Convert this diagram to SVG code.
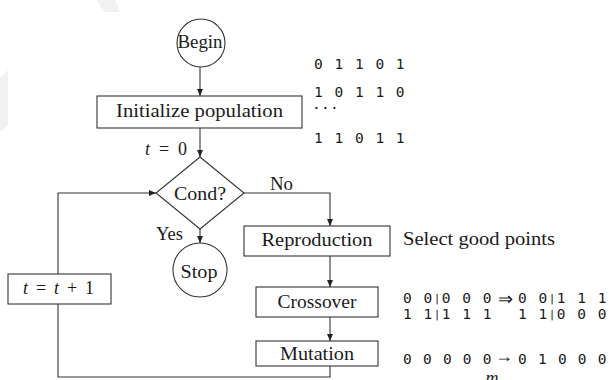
<svg xmlns="http://www.w3.org/2000/svg" width="615" height="380" viewBox="0 0 615 380">
  <style>
    .shape { fill: #ffffff; stroke: #333333; stroke-width: 1.1; }
    .wire { fill: none; stroke: #333333; stroke-width: 1.1; }
    .rm { font-family: "Liberation Serif", "Times New Roman", serif; font-size: 18px; fill: #1a1a1a; }
    .tt { font-family: "DejaVu Sans Mono", "Liberation Mono", monospace; font-size: 14.5px; fill: #1a1a1a; letter-spacing: 1.5px; }
    .bar { font-size: 11px; }
    .it { font-style: italic; }
    .mark { fill: #f1f1f1; stroke: none; }
  </style>
  <defs>
    <marker id="head" viewBox="0 0 7 6" markerWidth="7" markerHeight="6" refX="7" refY="3" orient="auto" markerUnits="userSpaceOnUse">
      <path d="M0,0 L7,3 L0,6 z" fill="#222222"/>
    </marker>
  </defs>

  <rect width="615" height="380" fill="#ffffff"/>

  <!-- faint background marks -->
  <polygon class="mark" points="97,0 115,0 120,12 104,12"/>
  <polygon class="mark" points="0,78 8,70 8,125 0,132"/>

  <!-- connectors -->
  <g id="connectors">
    <line class="wire" x1="200" y1="67" x2="200" y2="96" marker-end="url(#head)"/>
    <line class="wire" x1="200" y1="128" x2="200" y2="157" marker-end="url(#head)"/>
    <line class="wire" x1="200" y1="229" x2="200" y2="243" marker-end="url(#head)"/>
    <polyline class="wire" points="244,193 330,193 330,226" marker-end="url(#head)"/>
    <line class="wire" x1="330" y1="256" x2="330" y2="287" marker-end="url(#head)"/>
    <line class="wire" x1="330" y1="317" x2="330" y2="341" marker-end="url(#head)"/>
    <polyline class="wire" points="330,366 330,377 58,377 58,193 156,193" marker-end="url(#head)"/>
  </g>

  <!-- start node -->
  <g id="begin">
    <circle class="shape" cx="201" cy="43" r="24"/>
    <text class="rm" x="200" y="48" text-anchor="middle" textLength="45" lengthAdjust="spacingAndGlyphs">Begin</text>
  </g>

  <!-- initial population -->
  <g id="init">
    <rect class="shape" x="97" y="96" width="205" height="32"/>
    <text class="rm" x="199.5" y="117" text-anchor="middle" textLength="167" lengthAdjust="spacingAndGlyphs">Initialize population</text>
  </g>
  <g id="init-label">
    <text class="rm" x="145" y="155" textLength="42" lengthAdjust="spacing"><tspan class="it">t</tspan> = 0</text>
  </g>
  <g id="population">
    <text class="tt" x="314" y="69" xml:space="preserve">0 1 1 0 1</text>
    <text class="tt" x="314" y="97" xml:space="preserve">1 0 1 1 0</text>
    <text class="tt" x="312 321 330" y="113" letter-spacing="0">···</text>
    <text class="tt" x="314" y="143" xml:space="preserve">1 1 0 1 1</text>
  </g>

  <!-- decision -->
  <g id="cond">
    <polygon class="shape" points="200,157 244,193 200,229 156,193"/>
    <text class="rm" x="200" y="200" text-anchor="middle" textLength="52" lengthAdjust="spacingAndGlyphs">Cond?</text>
  </g>
  <g id="branch-labels">
    <text class="rm" x="270" y="190" textLength="23" lengthAdjust="spacingAndGlyphs">No</text>
    <text class="rm" x="156" y="240" textLength="27" lengthAdjust="spacingAndGlyphs">Yes</text>
  </g>

  <!-- end node -->
  <g id="stop">
    <circle class="shape" cx="200" cy="270" r="27"/>
    <text class="rm" x="199" y="278" text-anchor="middle" textLength="37" lengthAdjust="spacingAndGlyphs">Stop</text>
  </g>

  <!-- counter update -->
  <g id="increment">
    <rect class="shape" x="8" y="274" width="103" height="30"/>
    <text class="rm" x="23" y="294" textLength="71" lengthAdjust="spacing"><tspan class="it">t</tspan> = <tspan class="it">t</tspan> + 1</text>
  </g>

  <!-- genetic operators -->
  <g id="reproduction">
    <rect class="shape" x="244" y="226" width="146" height="30"/>
    <text class="rm" x="317" y="246" text-anchor="middle" textLength="111" lengthAdjust="spacingAndGlyphs">Reproduction</text>
  </g>
  <g id="reproduction-note">
    <text class="rm" x="403" y="245" textLength="152" lengthAdjust="spacingAndGlyphs">Select good points</text>
  </g>

  <g id="crossover">
    <rect class="shape" x="256" y="287" width="122" height="30"/>
    <text class="rm" x="317" y="308" text-anchor="middle" textLength="79" lengthAdjust="spacingAndGlyphs">Crossover</text>
  </g>
  <g id="crossover-note">
    <text class="tt" x="403" y="303" textLength="90" lengthAdjust="spacing" xml:space="preserve">0 0<tspan class="bar" dy="-1">|</tspan><tspan dy="1">0 0 0</tspan></text>
    <text class="tt" x="403" y="319" textLength="90" lengthAdjust="spacing" xml:space="preserve">1 1<tspan class="bar" dy="-1">|</tspan><tspan dy="1">1 1 1</tspan></text>
    <text class="rm" x="498" y="305" font-size="17">⇒</text>
    <text class="tt" x="518" y="303" textLength="90" lengthAdjust="spacing" xml:space="preserve">0 0<tspan class="bar" dy="-1">|</tspan><tspan dy="1">1 1 1</tspan></text>
    <text class="tt" x="518" y="319" textLength="90" lengthAdjust="spacing" xml:space="preserve">1 1<tspan class="bar" dy="-1">|</tspan><tspan dy="1">0 0 0</tspan></text>
  </g>

  <g id="mutation">
    <rect class="shape" x="256" y="341" width="122" height="25"/>
    <text class="rm" x="317" y="360" text-anchor="middle" textLength="74" lengthAdjust="spacingAndGlyphs">Mutation</text>
  </g>
  <g id="mutation-note">
    <text class="tt" x="403" y="364" textLength="90" lengthAdjust="spacing" xml:space="preserve">0 0 0 0 0</text>
    <text class="rm" x="495" y="362" font-size="17">→</text>
    <text class="tt" x="518" y="364" textLength="90" lengthAdjust="spacing" xml:space="preserve">0 1 0 0 0</text>
    <text class="rm it" x="492" y="384" text-anchor="middle">m</text>
  </g>
</svg>
